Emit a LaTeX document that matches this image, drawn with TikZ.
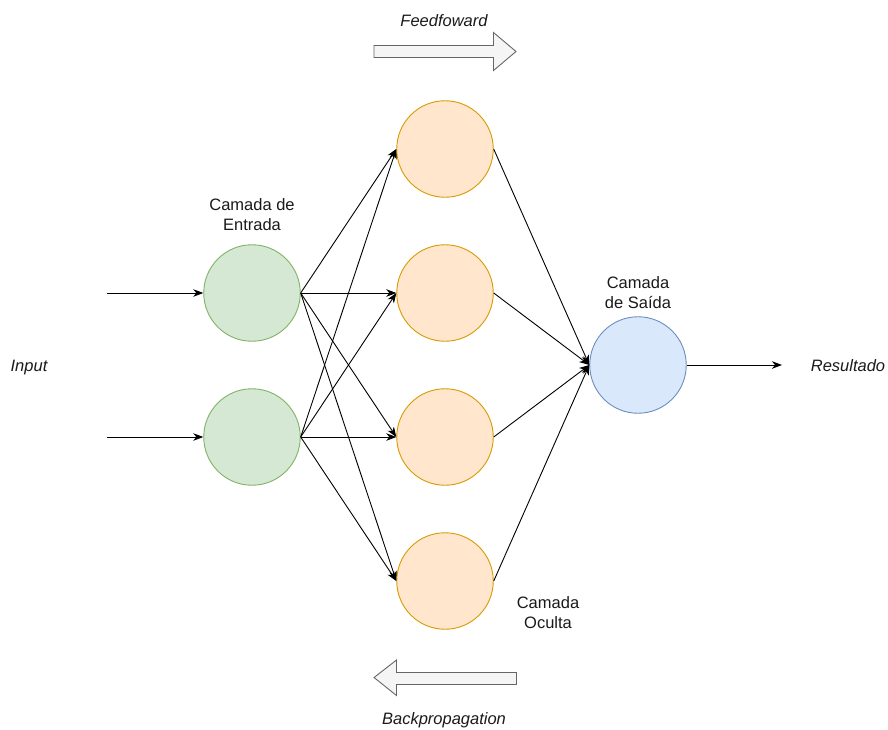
\documentclass[tikz,border=0pt]{standalone}
\usepackage{fontspec}
\setmainfont{Liberation Sans}
\usetikzlibrary{arrows.meta}
\definecolor{ingreen}{HTML}{D5E8D4}
\definecolor{ingreenline}{HTML}{82B366}
\definecolor{hidorange}{HTML}{FFE6CC}
\definecolor{hidorangeline}{HTML}{D79B00}
\definecolor{outblue}{HTML}{DAE8FC}
\definecolor{outblueline}{HTML}{6C8EBF}
\definecolor{blockfill}{HTML}{F5F5F5}
\definecolor{blockline}{HTML}{666666}
\definecolor{txt}{HTML}{1A1A1A}
\begin{document}
\begin{tikzpicture}[x=1pt,y=-1pt,
  neuron/.style={circle,inner sep=0pt,minimum size=96.5pt,line width=0.9pt},
  inneuron/.style={neuron,draw=ingreenline,fill=ingreen},
  hidneuron/.style={neuron,draw=hidorangeline,fill=hidorange},
  outneuron/.style={neuron,draw=outblueline,fill=outblue},
  conn/.style={line width=0.9pt,-{Stealth[length=10pt,width=7.5pt,inset=3pt]}},
  lbl/.style={font=\fontsize{16.5}{20}\selectfont,text=txt,align=center,anchor=base},
  ilbl/.style={lbl,font=\fontsize{16.5}{20}\selectfont\itshape},
  block/.style={draw=blockline,fill=blockfill,line width=0.9pt,line join=miter}
]
\useasboundingbox (0,0) rectangle (888,729);

% layers
\node[inneuron] (i1) at (252,293) {};
\node[inneuron] (i2) at (252,437) {};
\node[hidneuron] (h1) at (445,149) {};
\node[hidneuron] (h2) at (445,293) {};
\node[hidneuron] (h3) at (445,437) {};
\node[hidneuron] (h4) at (445,581) {};
\node[outneuron] (o) at (638,365) {};

% free ends of the input and output arrows
\coordinate (x1) at (107,293);
\coordinate (x2) at (107,437);
\coordinate (y) at (782,365);

\draw[conn] (x1) -- (i1.west);
\draw[conn] (x2) -- (i2.west);
\foreach \i in {i1,i2}
  \foreach \h in {h1,h2,h3,h4}
    \draw[conn] (\i.east) -- (\h.west);
\foreach \h in {h1,h2,h3,h4}
  \draw[conn] (\h.east) -- (o.west);
\draw[conn] (o.east) -- (y);

% labels (two-line labels are placed by the baseline of their last line)
\node[lbl] (lin) at (252,230.5) {Camada de\\Entrada};
\node[lbl] (lout) at (638,308) {Camada\\de Saída};
\node[lbl] (lhid) at (548,628.5) {Camada\\Oculta};
\node[ilbl] (linput) at (29,371) {Input};
\node[ilbl] (lres) at (848,371) {Resultado};
\node[ilbl] (lff) at (444,26.5) {Feedfoward};
\node[ilbl] (lbp) at (444,724) {Backpropagation};

% direction block arrows
\draw[block] (374,45.5) -- (493.5,45.5) -- (493.5,32.5) -- (516,51.5)
  -- (493.5,70.5) -- (493.5,57.5) -- (374,57.5) -- cycle;
\draw[block] (516.5,672.5) -- (396.5,672.5) -- (396.5,660) -- (374,677.5)
  -- (396.5,695.5) -- (396.5,684.5) -- (516.5,684.5) -- cycle;
\end{tikzpicture}
\end{document}
